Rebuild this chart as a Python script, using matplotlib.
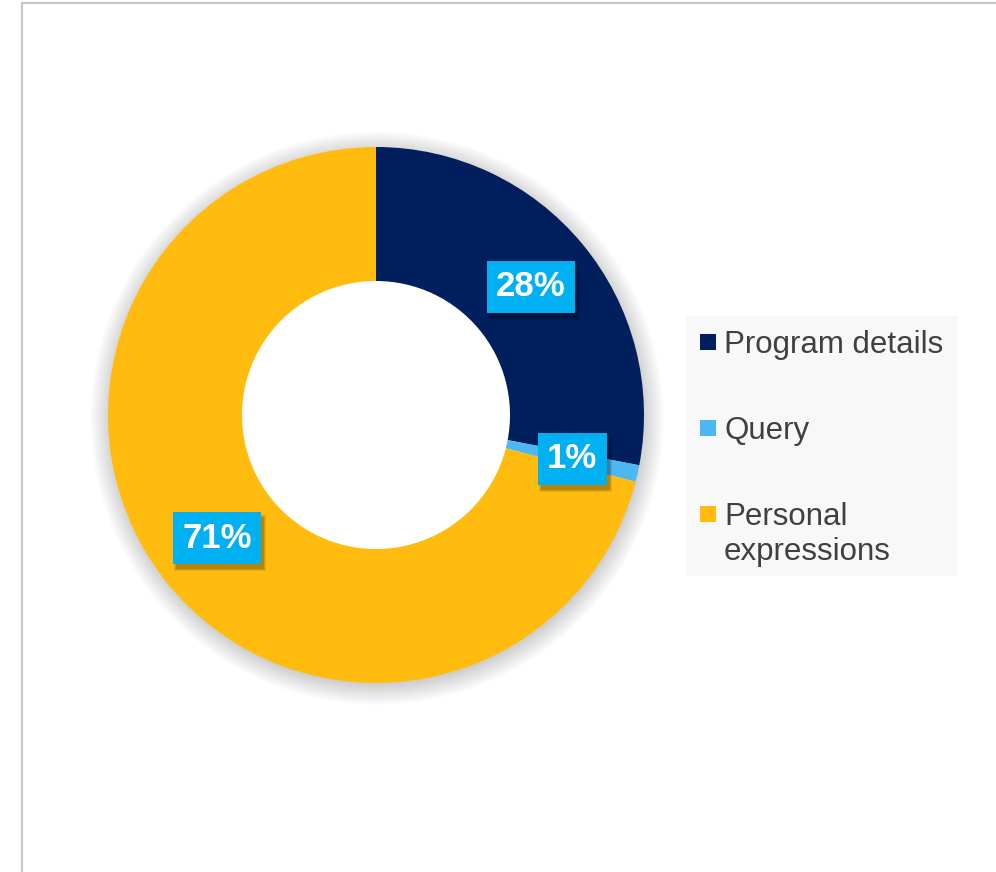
import matplotlib
matplotlib.use("Agg")
import matplotlib.pyplot as plt
from matplotlib.patches import Rectangle, Wedge
import numpy as np

categories = ["Program details", "Query", "Personal\nexpressions"]
shares = [28, 1, 71]
pct_labels = ["28%", "1%", "71%"]

NAVY, SKY, GOLD = "#001F5C", "#4DB7F2", "#FFBC0F"
LABEL_BG, INK = "#00B0F0", "#404040"
colors = [NAVY, SKY, GOLD]

plt.rcParams["font.family"] = ["Liberation Sans", "DejaVu Sans"]

W, H = 996, 872
fig = plt.figure(figsize=(W / 100, H / 100), dpi=100)


def fx(px):
    return px / W


def fy(py):
    return 1 - py / H


# outer frame (only left/top edges fall inside the picture)
fig.patches.append(Rectangle((fx(22), -0.1), 1.2, fy(3) + 0.1, transform=fig.transFigure,
                             fill=False, edgecolor="#C8C8C8", linewidth=1.6))

cx, cy, R = 376, 415, 268
ax = fig.add_axes([fx(cx - R), fy(cy + R), 2 * R / W, 2 * R / H])
ax.set_aspect("equal")
ax.axis("off")

# soft glow-like shadow around the ring, a bit heavier below
for k in range(16):
    ax.add_patch(Wedge((0.004, -0.012), 0.995 + k * 0.005, 0, 360, width=0.44 + k * 0.005,
                       facecolor="black", alpha=0.011, edgecolor="none", zorder=1,
                       clip_on=False))

wedges, _ = ax.pie(shares, colors=colors, startangle=90, counterclock=False, radius=1.0,
                   wedgeprops=dict(width=0.5, edgecolor="none"))
for w in wedges:
    w.set_zorder(2)
ax.set_xlim(-1, 1)
ax.set_ylim(-1, 1)

fracs = np.cumsum([0] + shares) / sum(shares)
labels = []
for i, lab in enumerate(pct_labels):
    mid = np.deg2rad(90 - 360 * (fracs[i] + fracs[i + 1]) / 2)
    x, y = 0.75 * np.cos(mid), 0.75 * np.sin(mid)
    t = ax.text(x, y, lab, ha="center", va="center", fontsize=25, fontweight="bold",
                color="white", zorder=5,
                bbox=dict(boxstyle="square,pad=0.27", facecolor=LABEL_BG, edgecolor="none"))
    labels.append(t)

# drop shadow behind each label box (display coords, under the label)
fig.canvas.draw()
for t in labels:
    bb = t.get_bbox_patch().get_window_extent()
    for k, a in enumerate([0.08, 0.10, 0.14]):
        g = 2 - k
        ax.add_patch(Rectangle((bb.x0 + 3 - g, bb.y0 - 5 - g), bb.width + 2 * g,
                               bb.height + 2 * g, transform=None, clip_on=False,
                               facecolor="black", alpha=a, edgecolor="none", zorder=3))

# legend, drawn by hand so the marker sits on the first line of each entry
fig.patches.append(Rectangle((fx(686), fy(576)), fx(958) - fx(686), fy(316) - fy(576),
                             transform=fig.transFigure, facecolor="#F8F8F8",
                             edgecolor="none", zorder=1))
for i, (name, c) in enumerate(zip(categories, colors)):
    base = 353 + 86 * i
    fig.patches.append(Rectangle((fx(700), fy(base - 3)), 16 / W, 16 / H,
                                 transform=fig.transFigure, facecolor=c,
                                 edgecolor="none", zorder=2))
    for j, line in enumerate(name.split("\n")):
        fig.text(fx(724), fy(base + 35 * j), line, ha="left", va="baseline",
                 fontsize=22.5, color=INK, zorder=3)

fig.savefig("out.png", dpi=100, facecolor="white")
